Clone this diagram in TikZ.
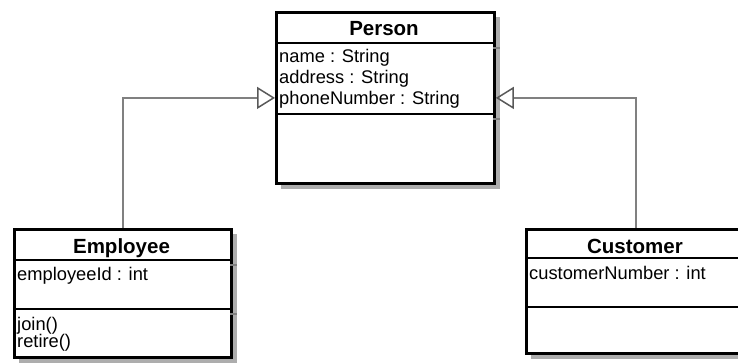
\documentclass[tikz,border=0pt]{standalone}
\usepackage{fontspec}
\setmainfont{Liberation Sans}
\usetikzlibrary{arrows.meta}
\tikzset{
  box/.style={draw=black, line width=2.8pt, fill=white, inner sep=0pt, anchor=north west},
  shade/.style={fill=black!32, draw=none},
  sep/.style={draw=black, line width=2.4pt},
  sepshade/.style={draw=black!50, line width=1.2pt},
  title/.style={font=\bfseries\fontsize{20.5}{24}\selectfont, inner sep=0pt, anchor=base},
  attr/.style={font=\fontsize{18.3}{21}\selectfont, inner sep=0pt, anchor=base west},
  conn/.style={draw=black!50, line width=2pt, -{Triangle[open, length=18pt, width=22pt, line width=1.5pt, color=black!65]}},
}
\begin{document}
\begin{tikzpicture}[x=1pt, y=-1pt]
\useasboundingbox (0,0) rectangle (738,363);
\clip (0,0) rectangle (738,363);
% shadows
\fill[shade] (281,17) rectangle (500,189);
\fill[shade] (19,234) rectangle (237,363);
\fill[shade] (531,234) rectangle (751,359);
% boxes
\node[box, minimum width=218pt, minimum height=171pt] (person) at (275,11) {};
\node[box, minimum width=217pt, minimum height=128pt] (emp) at (13,228) {};
\node[box, minimum width=220pt, minimum height=124pt] (cust) at (525,228) {};
% separator shadows
\draw[sepshade] (493,48) -- (500,48);
\draw[sepshade] (493,119) -- (500,119);
\draw[sepshade] (230,265) -- (237,265);
\draw[sepshade] (230,314) -- (237,314);
% separators
\draw[sep] (person.west |- 0,43) -- (person.east |- 0,43);
\draw[sep] (person.west |- 0,114) -- (person.east |- 0,114);
\draw[sep] (emp.west |- 0,260) -- (emp.east |- 0,260);
\draw[sep] (emp.west |- 0,309) -- (emp.east |- 0,309);
\draw[sep] (cust.west |- 0,258) -- (cust.east |- 0,258);
\draw[sep] (cust.west |- 0,307) -- (cust.east |- 0,307);
% texts
\node[title] (ptitle) at (384,36) {Person};
\node[attr] (pa1) at (279,63) {name : String};
\node[attr] (pa2) at (279,84) {address : String};
\node[attr] (pa3) at (279,105) {phoneNumber : String};
\node[title] (etitle) at (121.5,253) {Employee};
\node[attr] (ea1) at (17,280) {employeeId : int};
\node[attr] (em1) at (17,330) {join()};
\node[attr] (em2) at (17,347) {retire()};
\node[title] (ctitle) at (635,253) {Customer};
\node[attr] (ca1) at (529,279) {customerNumber : int};
% connectors
\draw[conn] (emp.north) |- (person.west);
\draw[conn] (cust.north) |- (person.east);
\end{tikzpicture}
\end{document}
